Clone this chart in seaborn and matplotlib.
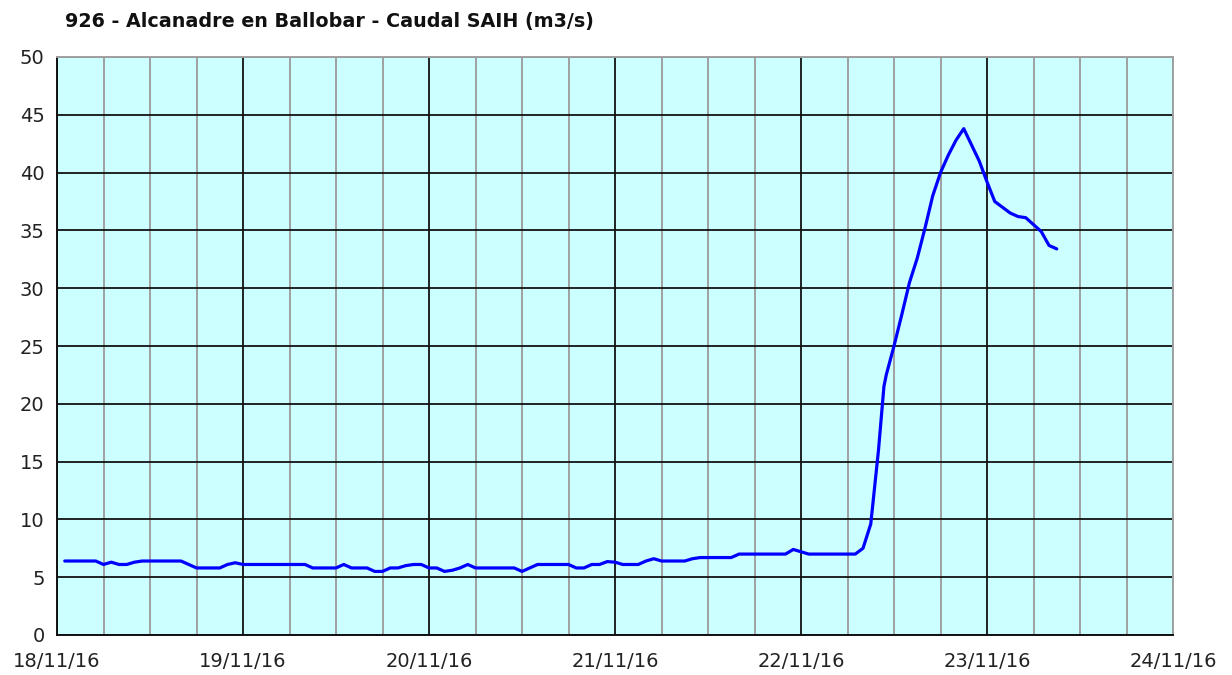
import pandas as pd
import matplotlib.pyplot as plt
import matplotlib.dates as mdates
import seaborn as sns

# hours since 18/11/16 00:00 and caudal (m3/s)
horas = [1, 2, 3, 4, 5, 6, 7, 8, 9, 10, 11, 12, 13, 14, 15, 16, 17, 18, 19, 20,
         21, 22, 23, 24, 25, 26, 27, 28, 29, 30, 31, 32, 33, 34, 35, 36, 37, 38, 39, 40,
         41, 42, 43, 44, 45, 46, 47, 48, 49, 50, 51, 52, 53, 54, 55, 56, 57, 58, 59, 60,
         61, 62, 63, 64, 65, 66, 67, 68, 69, 70, 71, 72, 73, 74, 75, 76, 77, 78, 79, 80,
         81, 82, 83, 84, 85, 86, 87, 88, 89, 90, 91, 92, 93, 94, 95, 96, 97, 98, 99, 100,
         101, 102, 103, 104, 105, 106, 106.7, 107, 108, 109, 110, 111, 112, 113, 114, 115, 116,
         117, 118, 119, 120, 121, 122, 123, 124, 125, 126, 127, 128, 129]
caudal = [6.4, 6.4, 6.4, 6.4, 6.4, 6.1, 6.3, 6.1, 6.1, 6.3, 6.4, 6.4, 6.4, 6.4, 6.4, 6.4, 6.1, 5.8, 5.8, 5.8,
          5.8, 6.1, 6.25, 6.1, 6.1, 6.1, 6.1, 6.1, 6.1, 6.1, 6.1, 6.1, 5.8, 5.8, 5.8, 5.8, 6.1, 5.8, 5.8, 5.8,
          5.5, 5.5, 5.8, 5.8, 6.0, 6.1, 6.1, 5.8, 5.8, 5.5, 5.6, 5.8, 6.1, 5.8, 5.8, 5.8, 5.8, 5.8, 5.8, 5.5,
          5.8, 6.1, 6.1, 6.1, 6.1, 6.1, 5.8, 5.8, 6.1, 6.1, 6.35, 6.3, 6.1, 6.1, 6.1, 6.4, 6.6, 6.4, 6.4, 6.4,
          6.4, 6.6, 6.7, 6.7, 6.7, 6.7, 6.7, 7.0, 7.0, 7.0, 7.0, 7.0, 7.0, 7.0, 7.4, 7.2, 7.0, 7.0, 7.0, 7.0,
          7.0, 7.0, 7.0, 7.5, 9.6, 16.0, 21.5, 22.5, 25.0, 27.7, 30.5, 32.6, 35.2, 38.0, 40.0, 41.5, 42.8,
          43.8, 42.4, 41.0, 39.2, 37.5, 37.0, 36.5, 36.2, 36.1, 35.5, 34.9, 33.7, 33.4]

df = pd.DataFrame({
    'fecha': pd.Timestamp('2016-11-18') + pd.to_timedelta(horas, unit='h'),
    'caudal': caudal,
})

sns.set_theme(style='white')
plt.rcParams['font.family'] = ['DejaVu Sans']

fig = plt.figure(figsize=(12.32, 6.75), dpi=100)
ax = fig.add_axes([57 / 1232, 40 / 675, 1116 / 1232, 578 / 675])
ax.set_facecolor('#CCFFFF')

sns.lineplot(data=df, x='fecha', y='caudal', color='#0000FF', linewidth=2.3, ax=ax, zorder=5)

ax.set_xlim(pd.Timestamp('2016-11-18'), pd.Timestamp('2016-11-24'))
ax.set_ylim(0, 50)
ax.set_yticks(range(0, 51, 5))
ax.xaxis.set_major_locator(mdates.DayLocator())
ax.xaxis.set_major_formatter(mdates.DateFormatter('%d/%m/%y'))
ax.xaxis.set_minor_locator(mdates.HourLocator(byhour=[6, 12, 18]))

# rejilla: verticales grises cada 6 h, negras cada dia, horizontales negras
ax.grid(which='minor', axis='x', color='#A0A0A0', linewidth=1.4, zorder=1)
ax.grid(which='major', axis='x', color='#111111', linewidth=1.3, zorder=2)
ax.grid(which='major', axis='y', color='#111111', linewidth=1.3, zorder=2)
ax.set_axisbelow(True)

ax.tick_params(axis='both', which='major', direction='out', length=5, width=1.3,
               color='#111111', labelsize=14, labelcolor='#222222', pad=7)
ax.tick_params(axis='x', which='minor', length=0)
ax.tick_params(axis='y', pad=4)

for side in ['left', 'bottom']:
    ax.spines[side].set_color('#111111')
    ax.spines[side].set_linewidth(1.4)
for side in ['top', 'right']:
    ax.spines[side].set_color('#A0A0A0')
    ax.spines[side].set_linewidth(1.4)

ax.set_xlabel('')
ax.set_ylabel('')
fig.text(65 / 1232, 1 - 22 / 675, '926 - Alcanadre en Ballobar - Caudal SAIH (m3/s)',
         fontsize=13.8, fontweight='bold', color='#111111', va='center', ha='left')

fig.savefig('out.png', dpi=100)
